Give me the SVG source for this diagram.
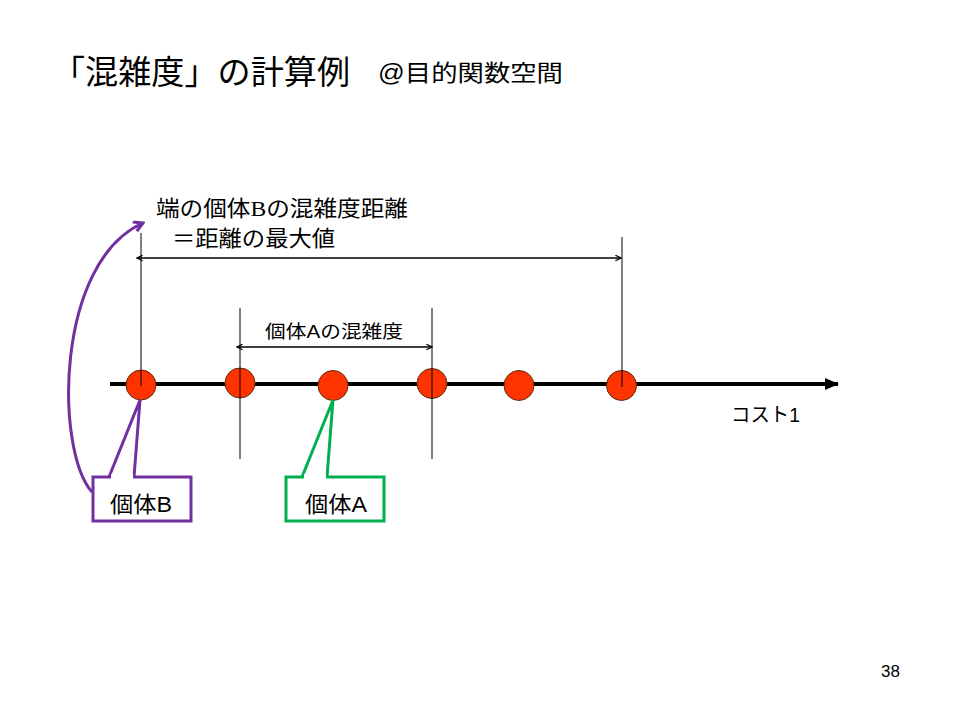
<svg xmlns="http://www.w3.org/2000/svg" width="960" height="720" viewBox="0 0 960 720">
<style>
text{font-family:"Liberation Sans","Noto Sans CJK JP",sans-serif;fill:#000}
.vl{stroke:#000;stroke-width:1;fill:none}
.dim{stroke:#000;stroke-width:1.6;fill:none;marker-start:url(#openS);marker-end:url(#openE)}
.dot{fill:#FF3300;stroke:#5a2a10;stroke-width:1}
</style>
<defs>
<marker id="openE" viewBox="0 0 10 10" refX="9" refY="5" markerWidth="7" markerHeight="7" orient="auto" markerUnits="userSpaceOnUse">
<path d="M1 1 L9 5 L1 9" fill="none" stroke="#000" stroke-width="1.8"/>
</marker>
<marker id="openS" viewBox="0 0 10 10" refX="1" refY="5" markerWidth="7" markerHeight="7" orient="auto" markerUnits="userSpaceOnUse">
<path d="M9 1 L1 5 L9 9" fill="none" stroke="#000" stroke-width="1.8"/>
</marker>
<marker id="axisHead" viewBox="0 0 14 12" refX="13" refY="6" markerWidth="14" markerHeight="12" orient="auto" markerUnits="userSpaceOnUse">
<path d="M0 0 L14 6 L0 12 Z" fill="#000"/>
</marker>
<marker id="purpHead" viewBox="0 0 12 12" refX="10" refY="6" markerWidth="12" markerHeight="12" orient="auto" markerUnits="userSpaceOnUse">
<path d="M1 1 L10 6 L1 11" fill="none" stroke="#7030A0" stroke-width="3"/>
</marker>
</defs>

<g id="title">
<text x="52" y="84" font-size="33" textLength="298" lengthAdjust="spacingAndGlyphs">「混雑度」の計算例</text>
<text x="378" y="81" font-size="23" textLength="185" lengthAdjust="spacingAndGlyphs">@目的関数空間</text>
</g>

<g id="connectors">
<line x1="110" y1="384" x2="838" y2="384" stroke="#000" stroke-width="4" marker-end="url(#axisHead)"/>
<line class="vl" x1="141" y1="233" x2="141" y2="386"/>
<line class="vl" x1="622" y1="237" x2="622" y2="387"/>
<line class="vl" x1="240" y1="308" x2="240" y2="459"/>
<line class="vl" x1="432" y1="308" x2="432" y2="459"/>
<line class="dim" x1="137" y1="258" x2="621" y2="258"/>
<line class="dim" x1="237" y1="347" x2="432" y2="347"/>
<path d="M92 492 C55 450 55 262 143 223" fill="none" stroke="#7030A0" stroke-width="3" marker-end="url(#purpHead)"/>
</g>

<g id="points">
<circle class="dot" cx="141" cy="385" r="15"/>
<circle class="dot" cx="240" cy="383" r="15"/>
<circle class="dot" cx="333" cy="385.5" r="15"/>
<circle class="dot" cx="432" cy="383.5" r="15"/>
<circle class="dot" cx="519" cy="385.5" r="15"/>
<circle class="dot" cx="621.5" cy="385.5" r="15"/>
<line class="vl" x1="141" y1="370" x2="141" y2="386"/>
<line class="vl" x1="622" y1="370" x2="622" y2="387"/>
<line class="vl" x1="240" y1="368" x2="240" y2="398"/>
<line class="vl" x1="432" y1="368" x2="432" y2="399"/>
</g>

<g id="label-edge">
<text x="156" y="216" font-size="22" textLength="252" lengthAdjust="spacingAndGlyphs">端の個体<tspan font-family="Liberation Serif,serif">B</tspan>の混雑度距離</text>
<text x="172" y="246" font-size="22" textLength="163" lengthAdjust="spacingAndGlyphs">＝距離の最大値</text>
</g>

<g id="label-a">
<text x="265" y="338" font-size="18" textLength="138" lengthAdjust="spacingAndGlyphs">個体Aの混雑度</text>
</g>

<g id="label-axis">
<text x="731" y="422" font-size="20" textLength="69" lengthAdjust="spacingAndGlyphs">コスト1</text>
</g>

<g id="callout-b">
<path d="M109 477 L140 400 L134 477" fill="#fff" stroke="#7030A0" stroke-width="3" stroke-linejoin="miter"/>
<rect x="93" y="477" width="98" height="44" fill="#fff" stroke="#7030A0" stroke-width="3"/>
<rect x="111" y="474" width="22" height="6" fill="#fff"/>
<text x="110" y="512" font-size="22" textLength="62" lengthAdjust="spacingAndGlyphs">個体B</text>
</g>

<g id="callout-a">
<path d="M302 477 L333 400 L327 477" fill="#fff" stroke="#00B050" stroke-width="3"/>
<rect x="286" y="477" width="98" height="44" fill="#fff" stroke="#00B050" stroke-width="3"/>
<rect x="304" y="474" width="22" height="6" fill="#fff"/>
<text x="305" y="512" font-size="22" textLength="62" lengthAdjust="spacingAndGlyphs">個体A</text>
</g>

<g id="page">
<text x="881" y="677" font-size="17">38</text>
</g>
</svg>
